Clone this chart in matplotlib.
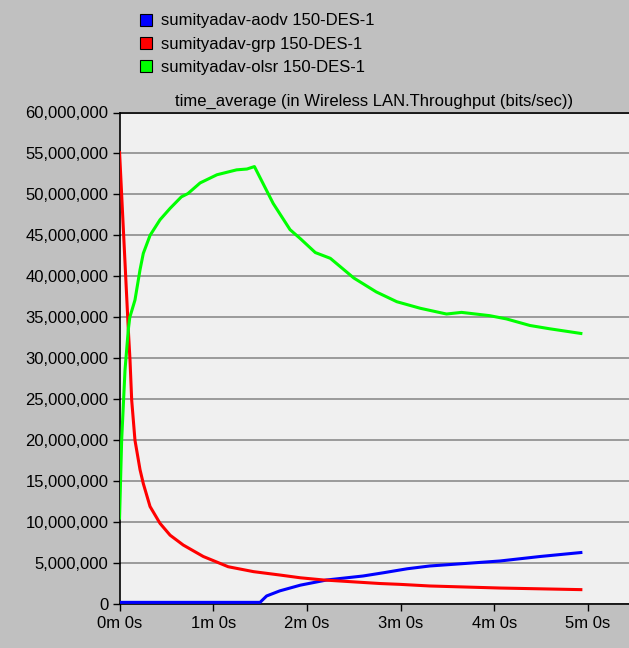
import matplotlib
matplotlib.use("Agg")
import matplotlib.pyplot as plt
from matplotlib.lines import Line2D
from matplotlib.ticker import FuncFormatter, MultipleLocator

plt.rcParams["font.family"] = ["Liberation Sans", "DejaVu Sans"]

# time in minutes, throughput in bits/sec
aodv_t = [0, 1.5, 1.57, 1.71, 1.93, 2.21, 2.60, 2.82, 3.07, 3.31, 4.06, 4.49, 4.94]
aodv_v = [0.2e6, 0.2e6, 0.98e6, 1.6e6, 2.3e6, 2.93e6, 3.42e6, 3.82e6, 4.3e6,
          4.64e6, 5.25e6, 5.8e6, 6.3e6]

grp_t = [0, 0.094, 0.112, 0.13, 0.165, 0.219, 0.254, 0.326, 0.432, 0.54,
         0.68, 0.894, 1.16, 1.43, 1.71, 1.93, 2.18, 2.78, 2.99, 3.31, 4.06,
         4.94]
grp_v = [55.3e6, 33.5e6, 29.8e6, 24.9e6, 20.0e6, 16.4e6, 14.7e6, 11.9e6,
         9.85e6, 8.4e6, 7.2e6, 5.8e6, 4.55e6, 3.95e6, 3.54e6, 3.2e6, 2.93e6,
         2.5e6, 2.4e6, 2.2e6, 1.95e6, 1.75e6]

olsr_t = [0, 0.023, 0.059, 0.094, 0.11, 0.165, 0.219, 0.254, 0.326, 0.432,
          0.54, 0.66, 0.73, 0.86, 1.04, 1.25, 1.36, 1.44, 1.64, 1.82, 1.93,
          2.09, 2.25, 2.50, 2.74, 2.96, 3.21, 3.49, 3.65, 3.95, 4.13, 4.38,
          4.59, 4.94]
olsr_v = [10.3e6, 20.0e6, 28.6e6, 33.5e6, 35.0e6, 37.1e6, 40.8e6, 42.8e6,
          45.0e6, 46.9e6, 48.3e6, 49.7e6, 50.1e6, 51.4e6, 52.4e6, 53.0e6,
          53.1e6, 53.4e6, 48.9e6, 45.7e6, 44.6e6, 42.9e6, 42.2e6, 39.8e6,
          38.1e6, 36.9e6, 36.1e6, 35.4e6, 35.6e6, 35.2e6, 34.8e6, 34.0e6,
          33.6e6, 33.0e6]

series = [
    ("sumityadav-aodv 150-DES-1", aodv_t, aodv_v, "#0000ff"),
    ("sumityadav-grp 150-DES-1", grp_t, grp_v, "#ff0000"),
    ("sumityadav-olsr 150-DES-1", olsr_t, olsr_v, "#00ff00"),
]
x_ticks = [0, 1, 2, 3, 4, 5]
x_labels = ["0m 0s", "1m 0s", "2m 0s", "3m 0s", "4m 0s", "5m 0s"]

W, H = 629, 648
fig = plt.figure(figsize=(W / 100, H / 100), dpi=100, facecolor="#c0c0c0")
ax = fig.add_axes([119.5 / W, (H - 604) / H, (629 - 119.5) / W, (604 - 112.5) / H])
ax.set_facecolor("#f0f0f0")

for label, t, v, c in series:
    ax.plot(t, v, color=c, linewidth=2.2, label=label, solid_capstyle="butt",
            solid_joinstyle="round", zorder=3)

ax.set_xlim(0, (629 - 119.5) / 93.7)
ax.set_ylim(0, 60e6)
ax.yaxis.set_major_locator(MultipleLocator(5e6))
ax.yaxis.set_major_formatter(FuncFormatter(lambda v, p: f"{v:,.0f}"))
ax.set_xticks(x_ticks)
ax.set_xticklabels(x_labels)
ax.grid(axis="y", color="#8c8c8c", linewidth=1.2, zorder=1)
ax.tick_params(axis="both", labelsize=12, colors="#000000", length=5,
               width=1, direction="out")
ax.tick_params(axis="y", pad=3)
ax.tick_params(axis="x", pad=4)
for s in ["left", "bottom", "top"]:
    ax.spines[s].set_color("#000000")
    ax.spines[s].set_linewidth(1.2)
ax.spines["right"].set_visible(False)

ax.set_title("time_average (in Wireless LAN.Throughput (bits/sec))",
             fontsize=12, pad=5)

handles = [Line2D([], [], marker="s", linestyle="none", markersize=9,
                  markerfacecolor=c, markeredgecolor="#000000",
                  markeredgewidth=0.8) for _, _, _, c in series]
fig.legend(handles, [s[0] for s in series], loc="upper left",
           bbox_to_anchor=(128 / W, 1 - 5 / H), frameon=False, fontsize=12,
           handletextpad=0.3, labelspacing=0.5, handlelength=1.2,
           borderpad=0)

fig.savefig("out.png", dpi=100, facecolor=fig.get_facecolor())
